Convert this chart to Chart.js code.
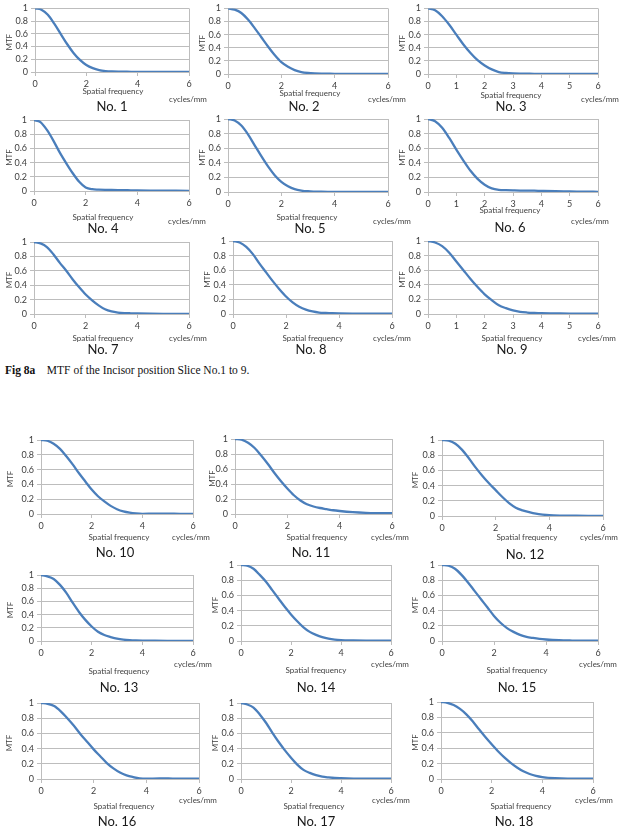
<!DOCTYPE html>
<html>
<head>
<meta charset="utf-8">
<script src="https://cdn.jsdelivr.net/npm/chart.js@4.4.1/dist/chart.umd.min.js"></script>
<style>
body { margin: 0; background: #fff; }
#page { position: relative; width: 627px; height: 834px; overflow: hidden; }
#page canvas { position: absolute; left: 0; top: 0; }
#caption { position: absolute; left: 5px; top: 364px; font-family: "Liberation Serif", serif; font-size: 11.5px; color: #111; white-space: pre; }
</style>
</head>
<body>
<div id="page">
  <div id="caption"><b>Fig 8a</b>    MTF of the Incisor position Slice No.1 to 9.</div>
</div>
<script>
// spatial frequency (cycles/mm)
const freq = [0, 0.25, 0.5, 0.75, 1, 1.25, 1.5, 1.75, 2, 2.25, 2.5, 2.75, 3, 3.25, 3.5, 3.75, 4, 4.5, 5, 5.5, 6];

// MTF values
const mtf1  = [1, 0.98, 0.90, 0.76, 0.60, 0.44, 0.30, 0.19, 0.11, 0.06, 0.03, 0.015, 0.008, 0.005, 0.004, 0.003, 0.003, 0.002, 0.002, 0.002, 0.002];
const mtf2  = [1, 0.98, 0.93, 0.83, 0.70, 0.56, 0.42, 0.29, 0.18, 0.11, 0.06, 0.03, 0.015, 0.008, 0.005, 0.004, 0.003, 0.002, 0.002, 0.002, 0.002];
const mtf3  = [1, 0.97, 0.88, 0.75, 0.60, 0.45, 0.32, 0.21, 0.13, 0.07, 0.03, 0.015, 0.008, 0.005, 0.004, 0.003, 0.003, 0.002, 0.002, 0.002, 0.002];
const mtf4  = [1, 0.97, 0.86, 0.71, 0.54, 0.39, 0.25, 0.13, 0.05, 0.025, 0.02, 0.017, 0.015, 0.013, 0.011, 0.01, 0.008, 0.006, 0.005, 0.004, 0.003];
const mtf5  = [1, 0.98, 0.91, 0.79, 0.64, 0.49, 0.35, 0.23, 0.14, 0.08, 0.04, 0.02, 0.01, 0.006, 0.004, 0.003, 0.003, 0.002, 0.002, 0.002, 0.002];
const mtf6  = [1, 0.97, 0.88, 0.74, 0.58, 0.43, 0.29, 0.18, 0.10, 0.05, 0.03, 0.025, 0.022, 0.02, 0.02, 0.018, 0.015, 0.01, 0.008, 0.005, 0.003];
const mtf7  = [1, 0.98, 0.93, 0.83, 0.71, 0.60, 0.48, 0.37, 0.27, 0.19, 0.12, 0.065, 0.035, 0.02, 0.013, 0.01, 0.008, 0.005, 0.003, 0.002, 0.002];
const mtf8  = [1, 0.98, 0.92, 0.82, 0.69, 0.57, 0.45, 0.34, 0.24, 0.16, 0.10, 0.06, 0.035, 0.02, 0.014, 0.01, 0.008, 0.006, 0.005, 0.005, 0.005];
const mtf9  = [1, 0.98, 0.93, 0.84, 0.72, 0.60, 0.48, 0.37, 0.27, 0.19, 0.12, 0.08, 0.05, 0.03, 0.02, 0.014, 0.01, 0.008, 0.006, 0.005, 0.005];
const mtf10 = [1, 0.99, 0.95, 0.88, 0.78, 0.67, 0.55, 0.44, 0.33, 0.24, 0.17, 0.11, 0.065, 0.035, 0.018, 0.008, 0.003, 0.005, 0.005, 0.003, 0.003];
const mtf11 = [1, 0.99, 0.95, 0.88, 0.78, 0.67, 0.55, 0.44, 0.34, 0.25, 0.18, 0.13, 0.10, 0.08, 0.065, 0.05, 0.04, 0.025, 0.016, 0.012, 0.01];
const mtf12 = [1, 0.99, 0.95, 0.87, 0.76, 0.64, 0.53, 0.43, 0.34, 0.25, 0.17, 0.11, 0.075, 0.05, 0.03, 0.018, 0.01, 0.005, 0.003, 0.002, 0.002];
const mtf13 = [1, 0.98, 0.94, 0.85, 0.73, 0.58, 0.44, 0.32, 0.22, 0.14, 0.09, 0.06, 0.035, 0.02, 0.012, 0.008, 0.006, 0.004, 0.003, 0.003, 0.003];
const mtf14 = [1, 0.99, 0.95, 0.87, 0.78, 0.67, 0.56, 0.45, 0.35, 0.26, 0.18, 0.12, 0.08, 0.05, 0.03, 0.018, 0.012, 0.008, 0.006, 0.005, 0.005];
const mtf15 = [1, 0.99, 0.95, 0.87, 0.77, 0.66, 0.55, 0.44, 0.33, 0.24, 0.17, 0.12, 0.08, 0.055, 0.04, 0.028, 0.02, 0.01, 0.006, 0.004, 0.003];
const mtf16 = [1, 0.99, 0.96, 0.89, 0.80, 0.70, 0.59, 0.49, 0.39, 0.30, 0.21, 0.14, 0.085, 0.048, 0.025, 0.008, 0.003, 0.007, 0.006, 0.005, 0.005];
const mtf17 = [1, 0.98, 0.94, 0.85, 0.74, 0.61, 0.49, 0.38, 0.28, 0.19, 0.12, 0.08, 0.05, 0.03, 0.02, 0.013, 0.01, 0.006, 0.004, 0.003, 0.003];
const mtf18 = [1, 0.99, 0.96, 0.91, 0.84, 0.75, 0.645, 0.545, 0.45, 0.36, 0.28, 0.21, 0.15, 0.10, 0.065, 0.04, 0.025, 0.01, 0.005, 0.005, 0.005];

const series = [mtf1, mtf2, mtf3, mtf4, mtf5, mtf6, mtf7, mtf8, mtf9,
                mtf10, mtf11, mtf12, mtf13, mtf14, mtf15, mtf16, mtf17, mtf18];

const mtfTicks = [0, 0.2, 0.4, 0.6, 0.8, 1];

// where each panel sits on the page: plot box [left, top, right, bottom],
// x tick step, and label centres
const panels = [
  { box: [35, 1, 189, 72],    step: 2, sf: [113, 91],  cm: [188, 99],  no: [112, 107], mtfX: 9 },
  { box: [228, 1, 388, 74],   step: 2, sf: [310, 93],  cm: [387, 99],  no: [304, 107], mtfX: 202 },
  { box: [428, 1, 598, 74],   step: 1, sf: [511, 95],  cm: [600, 99],  no: [511, 107], mtfX: 402 },
  { box: [34, 120, 189, 191], step: 2, sf: [103, 217], cm: [187, 221], no: [103, 229], mtfX: 9 },
  { box: [228, 119, 388, 192], step: 2, sf: [307, 217], cm: [392, 221], no: [310, 229], mtfX: 202 },
  { box: [428, 119, 598, 192], step: 1, sf: [510, 210], cm: [590, 221], no: [510, 228], mtfX: 402 },
  { box: [34, 242, 189, 314], step: 2, sf: [103, 338], cm: [188, 338], no: [103, 350], mtfX: 9 },
  { box: [233, 241, 392, 314], step: 2, sf: [313, 338], cm: [392, 338], no: [311, 350], mtfX: 207 },
  { box: [428, 241, 598, 314], step: 1, sf: [512, 338], cm: [597, 338], no: [512, 350], mtfX: 402 },
  { box: [41, 440, 193, 514], step: 2, sf: [119, 537], cm: [191, 537], no: [115, 553], mtfX: 10 },
  { box: [235, 439, 392, 514], step: 2, sf: [317, 537], cm: [390, 537], no: [311, 553], mtfX: 212 },
  { box: [442, 440, 603, 516], step: 2, sf: [527, 537], cm: [599, 537], no: [525, 555], mtfX: 415 },
  { box: [41, 575, 193, 641], step: 2, sf: [119, 671], cm: [193, 664], no: [119, 688], mtfX: 10 },
  { box: [241, 565, 391, 641], step: 2, sf: [316, 670], cm: [390, 664], no: [316, 688], mtfX: 215 },
  { box: [442, 565, 598, 641], step: 2, sf: [517, 670], cm: [598, 664], no: [517, 688], mtfX: 415 },
  { box: [41, 703, 199, 779], step: 2, sf: [124, 806], cm: [198, 800], no: [117, 822], mtfX: 9 },
  { box: [241, 703, 391, 779], step: 2, sf: [314, 806], cm: [391, 800], no: [316, 822], mtfX: 215 },
  { box: [441, 702, 593, 779], step: 2, sf: [521, 806], cm: [594, 800], no: [514, 822], mtfX: 415 }
];

const PAGE_W = 627, PAGE_H = 834;
const Y_AXIS_W = 30, X_AXIS_H = 18;
const GRID = '#bdbdbd';
const TEXT = '#404040';
const FONT = 'Lato, "Open Sans", sans-serif';

const panelLabels = {
  id: 'panelLabels',
  afterDraw(chart, args, opts) {
    const p = opts.panel;
    const ctx = chart.ctx;
    const area = chart.chartArea;
    ctx.save();
    ctx.textAlign = 'center';
    ctx.textBaseline = 'middle';
    ctx.fillStyle = TEXT;
    ctx.font = '8px ' + FONT;
    ctx.fillText('Spatial frequency', p.sf[0], p.sf[1]);
    ctx.fillText('cycles/mm', p.cm[0], p.cm[1]);
    ctx.font = '13px ' + FONT;
    ctx.fillStyle = '#1a1a1a';
    ctx.fillText('No. ' + opts.num, p.no[0], p.no[1]);
    ctx.fillStyle = TEXT;
    ctx.font = '8px ' + FONT;
    ctx.translate(p.mtfX, (area.top + area.bottom) / 2 + 2);
    ctx.rotate(-Math.PI / 2);
    ctx.fillText('MTF', 0, 0);
    ctx.restore();
  }
};

const page = document.getElementById('page');

panels.forEach((p, i) => {
  const canvas = document.createElement('canvas');
  canvas.width = PAGE_W;
  canvas.height = PAGE_H;
  page.appendChild(canvas);

  const [left, top, right, bottom] = p.box;
  const lastTick = 6 / p.step;

  new Chart(canvas, {
    type: 'line',
    data: {
      datasets: [{
        data: freq.map((f, k) => ({ x: f, y: series[i][k] })),
        borderColor: '#4a7ebb',
        borderWidth: 2.3,
        pointRadius: 0,
        cubicInterpolationMode: 'monotone',
        fill: false
      }]
    },
    options: {
      responsive: false,
      animation: false,
      events: [],
      layout: {
        padding: { left: left - Y_AXIS_W, top: top, right: PAGE_W - right, bottom: PAGE_H - bottom - X_AXIS_H }
      },
      plugins: {
        legend: { display: false },
        tooltip: { enabled: false },
        panelLabels: { panel: p, num: i + 1 }
      },
      scales: {
        x: {
          type: 'linear',
          min: 0,
          max: 6,
          afterFit: s => { s.height = X_AXIS_H; },
          ticks: { stepSize: p.step, autoSkip: false, color: TEXT, font: { family: FONT, size: 9 }, padding: 3, maxRotation: 0 },
          grid: {
            color: c => (c.index === 0 || c.index === lastTick) ? GRID : 'rgba(0,0,0,0)',
            tickColor: GRID,
            tickLength: 4
          },
          border: { color: GRID }
        },
        y: {
          min: 0,
          max: 1,
          afterFit: s => { s.width = Y_AXIS_W; },
          afterBuildTicks: s => { s.ticks = mtfTicks.map(v => ({ value: v })); },
          ticks: {
            autoSkip: false,
            color: TEXT,
            font: { family: FONT, size: 9 },
            padding: 3,
            callback: v => String(Math.round(v * 10) / 10)
          },
          grid: { color: GRID, tickColor: GRID, tickLength: 4 },
          border: { color: GRID }
        }
      }
    },
    plugins: [panelLabels]
  });
});
</script>
</body>
</html>
